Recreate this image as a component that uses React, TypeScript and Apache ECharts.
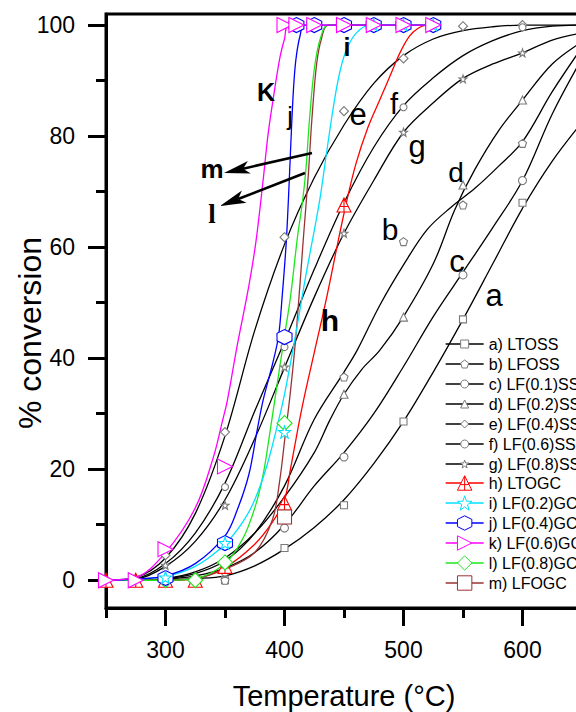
import React, { useEffect, useRef } from 'react';
import * as echarts from 'echarts';

const FONT = 'Liberation Sans, Arial, Helvetica, sans-serif';

// ---------- tick labels ----------
const xMajorTicks = [300, 400, 500, 600];
const xMinorTicks = [250, 350, 450, 550, 650];
const yMajorTicks = [0, 20, 40, 60, 80, 100];
const yMinorTicks = [10, 30, 50, 70, 90];

const seriesNames = [
  'a) LTOSS', 'b) LFOSS', 'c) LF(0.1)SS', 'd) LF(0.2)SS', 'e) LF(0.4)SS', 'f) LF(0.6)SS', 'g) LF(0.8)SS',
  'h) LTOGC', 'i) LF(0.2)GC', 'j) LF(0.4)GC', 'k) LF(0.6)GC', 'l) LF(0.8)GC', 'm) LFOGC',
];

// ---------- fitted curves (temperature, % conversion) and measured points ----------
const aCurveT = [250, 275, 300, 325, 350, 375, 400, 425, 450, 475, 500, 525, 550, 575, 600, 625, 650];
const aCurveV = [0, 0, 0.1, 0.3, 0.8, 2.6, 5.6, 9.5, 14.5, 21, 28.6, 37.5, 47, 57, 67, 75.5, 82.5];
const aMarkT = [350, 400, 450, 500, 550, 600];
const aMarkV = [0, 5.8, 13.5, 28.6, 47, 68];

const bCurveT = [250, 275, 300, 325, 350, 375, 400, 425, 450, 461, 480, 500, 520, 540, 560, 580, 600, 625, 650];
const bCurveV = [0, 0, 0.3, 1.2, 3.5, 8.5, 17, 29, 37.5, 41.4, 49.5, 56.8, 63.2, 67.2, 70.6, 74.6, 79, 88, 96];
const bMarkT = [350, 450, 500, 550, 600];
const bMarkV = [0, 36.6, 61, 67.6, 78.7];

const cCurveT = [250, 275, 300, 325, 350, 375, 400, 425, 450, 475, 500, 525, 550, 575, 600, 625, 650];
const cCurveV = [0, 0, 0.2, 0.8, 2.2, 5, 10, 17, 23, 30, 38.5, 47.5, 55.5, 63.5, 72, 84, 94];
const cMarkT = [350, 400, 450, 550, 600];
const cMarkV = [1.5, 9.4, 22.2, 55, 72];

const dCurveT = [250, 275, 300, 325, 350, 375, 400, 425, 438, 450, 465, 480, 500, 525, 543, 560, 580, 600, 625, 650];
const dCurveV = [0, 0, 0.3, 1.5, 4, 8.5, 15, 23, 28.8, 33.5, 38, 41.4, 47.5, 57, 66.7, 74, 81, 86.5, 93, 97];
const dMarkT = [450, 500, 550, 600];
const dMarkV = [33.5, 47.4, 71.2, 86.5];

const eCurveT = [250, 275, 300, 325, 350, 375, 400, 425, 450, 475, 500, 525, 550, 575, 600, 650];
const eCurveV = [0, 0.5, 4, 12, 26, 45, 60.5, 72.5, 82, 89.5, 94.5, 97.5, 99, 99.7, 100, 100];
const eMarkT = [300, 350, 400, 450, 500, 550, 600];
const eMarkV = [4.5, 26.7, 61.8, 84.5, 94, 99.8, 100];

const fCurveT = [250, 275, 300, 325, 350, 375, 400, 425, 450, 475, 500, 525, 550, 575, 600, 625, 650];
const fCurveV = [0, 0.3, 3, 8.5, 17.5, 30.5, 43, 56, 68, 78, 85.5, 90.5, 94.5, 97.2, 99, 99.8, 100];
const fMarkT = [350, 400, 500, 600];
const fMarkV = [16.8, 42, 85.2, 99.6];

const gCurveT = [250, 275, 300, 325, 350, 375, 400, 425, 450, 475, 500, 525, 550, 575, 600, 625, 650];
const gCurveV = [0, 0.2, 2.5, 7, 14.5, 25.5, 38.3, 51, 62.5, 72, 80.7, 86, 90.4, 93, 95, 97.3, 98.6];
const gMarkT = [300, 350, 400, 450, 500, 550, 600];
const gMarkV = [2.7, 13.5, 38.4, 62.5, 80.7, 90.3, 95];

const hCurveT = [250, 275, 300, 325, 350, 375, 390, 400, 405, 411, 416, 425, 435, 445, 452, 460, 470, 480, 490, 497, 505, 512, 520, 525];
const hCurveV = [0, 0, 0, 0.3, 2.3, 6.5, 10.5, 14.5, 20, 27, 32.4, 41, 50.5, 61, 68, 75, 81.5, 86.5, 91.5, 95, 98, 99.4, 100, 100];
const hMarkT = [250, 275, 300, 325, 350, 400, 450];
const hMarkV = [0, 0, 0, 0, 2.5, 13.9, 67.6];

const iCurveT = [250, 275, 300, 325, 350, 365, 375, 385, 393, 400, 410, 418, 425, 430, 436, 442, 447, 452, 460, 471, 525];
const iCurveV = [0, 0.2, 0.7, 2.5, 6.5, 10.5, 14.5, 20.5, 27, 33.5, 45, 55, 63, 69, 78, 86.5, 92, 95.5, 98.5, 100, 100];
const iMarkT = [300, 350, 400, 475, 500, 525];
const iMarkV = [0.5, 6.7, 26.7, 100, 100, 100];

const jCurveT = [250, 275, 300, 325, 350, 360, 370, 377, 382, 390, 395, 398, 401.5, 404, 406, 408, 410, 413, 417, 525];
const jCurveV = [0, 0.2, 0.8, 3, 8, 12.5, 19, 27, 32.4, 39, 44, 51, 61, 72, 82, 90, 94.5, 98, 100, 100];
const jMarkT = [300, 350, 400, 410, 425, 450, 475, 500, 525];
const jMarkV = [0.4, 6.7, 43.8, 100, 100, 100, 100, 100, 100];

const kCurveT = [250, 275, 300, 325, 340, 348, 352, 360, 370, 376, 382, 386, 390, 396, 400, 404, 525];
const kCurveV = [0, 0.5, 5, 13, 22, 28.8, 32.4, 42, 53, 61, 72, 80, 86, 94, 97.5, 100, 100];
const kMarkT = [250, 275, 300, 350, 400, 410, 425, 450, 475, 500, 525];
const kMarkV = [0, 0, 5.6, 20.5, 100, 100, 100, 100, 100, 100, 100];

const lCurveT = [250, 275, 300, 325, 350, 365, 375, 382, 388, 395, 400, 405, 411, 415, 418, 421, 425, 430, 437, 525];
const lCurveV = [0, 0, 0, 0.3, 3, 7.5, 13, 19, 27, 37, 44, 51, 62, 68, 74, 83, 92, 97.5, 100, 100];
const lMarkT = [300, 325, 350, 400];
const lMarkV = [0, 0, 3.2, 28.3];

const mCurveT = [250, 275, 300, 325, 350, 375, 390, 396, 400, 405, 410, 416, 420, 423, 427, 431, 437, 525];
const mCurveV = [0, 0, 0, 0.3, 2, 5, 11, 18, 25, 34, 45, 62, 73, 83, 93, 97.5, 100, 100];
const mMarkT = [400];
const mMarkV = [11.4];

// ---------- symbols ----------
const STAR = 'path://M0,-10L2.35,-3.24L9.51,-3.09L3.8,1.24L5.88,8.09L0,4L-5.88,8.09L-3.8,1.24L-9.51,-3.09L-2.35,-3.24Z';
const PENT = 'path://M0,-10L9.51,-3.09L5.88,8.09L-5.88,8.09L-9.51,-3.09Z';
const HEX = 'path://M0,-10L8.66,-5L8.66,5L0,10L-8.66,5L-8.66,-5Z';
const RTRI = 'path://M-8,-10L10,0L-8,10Z';
const CTRI = 'path://M0,-10L10,8L-10,8ZM0,-10L0,8M-6,1L6,1';

type Spec = {
  name: string; line: string; mark: string; symbol: string; size: number;
  ct: number[]; cv: number[]; mt: number[]; mv: number[]; z: number;
};

const specs: Spec[] = [
  { name: seriesNames[0], line: '#000', mark: '#7a7a7a', symbol: 'rect', size: 7, ct: aCurveT, cv: aCurveV, mt: aMarkT, mv: aMarkV, z: 3 },
  { name: seriesNames[1], line: '#000', mark: '#7a7a7a', symbol: PENT, size: 8, ct: bCurveT, cv: bCurveV, mt: bMarkT, mv: bMarkV, z: 3 },
  { name: seriesNames[2], line: '#000', mark: '#7a7a7a', symbol: 'circle', size: 8, ct: cCurveT, cv: cCurveV, mt: cMarkT, mv: cMarkV, z: 3 },
  { name: seriesNames[3], line: '#000', mark: '#7a7a7a', symbol: 'triangle', size: 8, ct: dCurveT, cv: dCurveV, mt: dMarkT, mv: dMarkV, z: 3 },
  { name: seriesNames[4], line: '#000', mark: '#7a7a7a', symbol: 'diamond', size: 9, ct: eCurveT, cv: eCurveV, mt: eMarkT, mv: eMarkV, z: 3 },
  { name: seriesNames[5], line: '#000', mark: '#7a7a7a', symbol: 'circle', size: 7, ct: fCurveT, cv: fCurveV, mt: fMarkT, mv: fMarkV, z: 3 },
  { name: seriesNames[6], line: '#000', mark: '#7a7a7a', symbol: STAR, size: 8, ct: gCurveT, cv: gCurveV, mt: gMarkT, mv: gMarkV, z: 3 },
  { name: seriesNames[7], line: '#ff0000', mark: '#ff0000', symbol: CTRI, size: 14, ct: hCurveT, cv: hCurveV, mt: hMarkT, mv: hMarkV, z: 4 },
  { name: seriesNames[8], line: '#00e0ff', mark: '#00e0ff', symbol: STAR, size: 12, ct: iCurveT, cv: iCurveV, mt: iMarkT, mv: iMarkV, z: 6 },
  { name: seriesNames[9], line: '#0000ff', mark: '#0000ff', symbol: HEX, size: 15, ct: jCurveT, cv: jCurveV, mt: jMarkT, mv: jMarkV, z: 5 },
  { name: seriesNames[10], line: '#ff00ff', mark: '#ff00ff', symbol: RTRI, size: 15, ct: kCurveT, cv: kCurveV, mt: kMarkT, mv: kMarkV, z: 7 },
  { name: seriesNames[11], line: '#1ee61e', mark: '#1ee61e', symbol: 'diamond', size: 15, ct: lCurveT, cv: lCurveV, mt: lMarkT, mv: lMarkV, z: 5 },
  { name: seriesNames[12], line: '#993333', mark: '#993333', symbol: 'rect', size: 14, ct: mCurveT, cv: mCurveV, mt: mMarkT, mv: mMarkV, z: 4 },
];

const lineOrder = [0, 1, 2, 3, 4, 5, 6, 7, 12, 11, 8, 9, 10];

function pairs(t: number[], v: number[]) {
  return t.map((x, i) => [x, v[i]]);
}

// ---------- annotations ----------
const letters = [
  { t: 'K', x: 266, y: 92, size: 25, weight: 'bold', family: FONT },
  { t: 'j', x: 290, y: 116, size: 25, weight: 'normal', family: FONT },
  { t: 'i', x: 347, y: 47, size: 25, weight: 'bold', family: FONT },
  { t: 'e', x: 358, y: 114, size: 31, weight: 'normal', family: FONT },
  { t: 'f', x: 394, y: 104, size: 29, weight: 'normal', family: FONT },
  { t: 'g', x: 417, y: 146, size: 31, weight: 'normal', family: FONT },
  { t: 'd', x: 456, y: 172, size: 28, weight: 'normal', family: FONT },
  { t: 'b', x: 390, y: 229, size: 30, weight: 'normal', family: FONT },
  { t: 'c', x: 457, y: 261, size: 31, weight: 'normal', family: FONT },
  { t: 'a', x: 494, y: 295, size: 31, weight: 'normal', family: FONT },
  { t: 'h', x: 330, y: 320, size: 30, weight: 'bold', family: FONT },
  { t: 'm', x: 212, y: 169, size: 26, weight: 'bold', family: FONT },
  { t: 'l', x: 212, y: 214, size: 27, weight: 'bold', family: 'Liberation Serif, Times New Roman, serif' },
];

function arrow(x1: number, y1: number, x2: number, y2: number) {
  const dx = x2 - x1, dy = y2 - y1;
  const len = Math.sqrt(dx * dx + dy * dy);
  const ux = dx / len, uy = dy / len;
  const hl = 26, hw = 6.5;
  const bx = x2 - ux * hl, by = y2 - uy * hl;
  const px = -uy * hw, py = ux * hw;
  const nx = x2 - ux * hl * 0.75, ny = y2 - uy * hl * 0.75;
  return [
    { type: 'line', shape: { x1, y1, x2: nx, y2: ny }, style: { stroke: '#000', lineWidth: 2.6 }, z: 100 },
    {
      type: 'polygon',
      shape: { points: [[x2, y2], [bx + px, by + py], [nx, ny], [bx - px, by - py]] },
      style: { fill: '#000' }, z: 100,
    },
  ];
}

export default function App() {
  const ref = useRef<HTMLDivElement>(null);
  useEffect(() => {
    if (!ref.current) return;
    const chart = echarts.init(ref.current, null, { renderer: 'svg' });

    const lineSeries = lineOrder.map((idx) => {
      const s = specs[idx];
      return {
        type: 'line',
        name: s.name,
        data: pairs(s.ct, s.cv),
        smooth: 0.35,
        showSymbol: false,
        symbol: s.symbol,
        lineStyle: { color: s.line, width: 1.3 },
        itemStyle: { color: '#fff', borderColor: s.mark, borderWidth: 1 },
        emphasis: { disabled: true },
        z: 2,
      };
    });
    const markSeries = lineOrder.map((idx) => {
      const s = specs[idx];
      return {
        type: 'scatter',
        name: s.name,
        data: pairs(s.mt, s.mv),
        symbol: s.symbol,
        symbolSize: s.size,
        itemStyle: { color: '#fff', borderColor: s.mark, borderWidth: 1.1, opacity: 1 },
        emphasis: { disabled: true },
        z: s.z,
      };
    });

    // one legend block per row so every row sits exactly 20px below the previous one
    const legends = specs.map((s, i) => {
      const big = i >= 7;
      const ih = big ? 18 : 10;
      const rowH = big ? 18 : 16;
      const centre = 344 + 20 * i;
      return {
        data: [{
          name: s.name,
          itemStyle: { color: '#fff', borderColor: s.mark, borderWidth: 1 },
          lineStyle: { color: s.line, width: 1.3 },
        }],
        orient: 'vertical', left: 445, top: centre - rowH / 2, padding: 0,
        itemWidth: 38, itemHeight: ih, itemGap: 0, selectedMode: false,
        textStyle: { fontSize: 16, color: '#000', fontFamily: FONT },
      };
    });

    const graphics: any[] = [];
    letters.forEach((l) => {
      graphics.push({
        type: 'text', x: l.x, y: l.y, z: 100,
        style: {
          text: l.t, fontSize: l.size, fontWeight: l.weight, fontFamily: l.family,
          fill: '#000', align: 'center', verticalAlign: 'middle',
        },
      });
    });
    graphics.push(...arrow(312, 153, 224, 173));
    graphics.push(...arrow(305, 173, 220, 206));
    graphics.push({
      type: 'text', x: 30, y: 333, rotation: Math.PI / 2, z: 100,
      style: {
        text: '% conversion', fontSize: 32, fontFamily: FONT, fill: '#000',
        align: 'center', verticalAlign: 'middle',
      },
    });

    const axisLineStyle = { color: '#000', width: 3 };

    chart.setOption({
      animation: false,
      backgroundColor: '#fff',
      textStyle: { fontFamily: FONT },
      grid: {
        left: 106, top: 14, right: -6, bottom: 104,
        show: true, borderColor: '#000', borderWidth: 3, backgroundColor: 'transparent',
        containLabel: false, outerBoundsMode: 'none',
      },
      xAxis: [
        {
          type: 'value', min: 250, max: 650, position: 'bottom',
          axisLine: { show: true, onZero: false, lineStyle: axisLineStyle },
          axisTick: { show: true, customValues: xMajorTicks, length: 18, lineStyle: axisLineStyle },
          axisLabel: { show: true, customValues: xMajorTicks, fontSize: 23, color: '#000', margin: 30, fontFamily: FONT },
          splitLine: { show: false },
          name: 'Temperature (°C)', nameLocation: 'middle', nameGap: 73,
          nameTextStyle: { fontSize: 29, color: '#000', fontFamily: FONT },
        },
        {
          type: 'value', min: 250, max: 650, position: 'bottom',
          axisLine: { show: false, onZero: false },
          axisTick: { show: true, customValues: xMinorTicks, length: 10, lineStyle: axisLineStyle },
          axisLabel: { show: false },
          splitLine: { show: false },
        },
      ],
      yAxis: [
        {
          type: 'value', min: -5, max: 102, position: 'left',
          axisLine: { show: true, onZero: false, lineStyle: axisLineStyle },
          axisTick: { show: true, customValues: yMajorTicks, length: 18, lineStyle: axisLineStyle },
          axisLabel: { show: true, customValues: yMajorTicks, fontSize: 23, color: '#000', margin: 31, fontFamily: FONT },
          splitLine: { show: false },
        },
        {
          type: 'value', min: -5, max: 102, position: 'left',
          axisLine: { show: false, onZero: false },
          axisTick: { show: true, customValues: yMinorTicks, length: 10, lineStyle: axisLineStyle },
          axisLabel: { show: false },
          splitLine: { show: false },
        },
      ],
      legend: legends,
      series: [...lineSeries, ...markSeries],
      graphic: graphics,
    });
    return () => chart.dispose();
  }, []);
  return <div ref={ref} style={{ position: 'absolute', left: 0, top: 0, width: 576, height: 712 }} />;
}
